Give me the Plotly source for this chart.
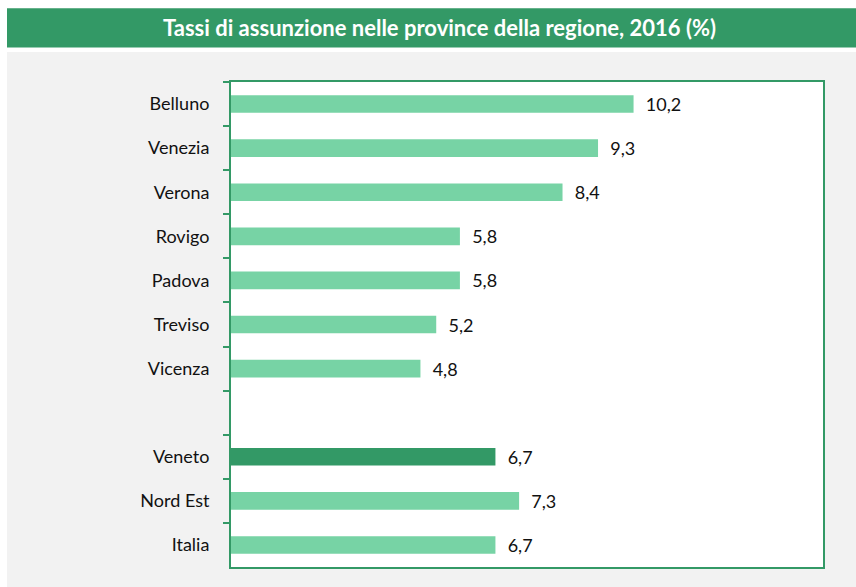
import plotly.graph_objects as go

title = "Tassi di assunzione nelle province della regione, 2016 (%)"
categories = ["Belluno", "Venezia", "Verona", "Rovigo", "Padova", "Treviso", "Vicenza", " ", "Veneto", "Nord Est", "Italia"]
values = [10.2, 9.3, 8.4, 5.8, 5.8, 5.2, 4.8, None, 6.7, 7.3, 6.7]
highlight = "Veneto"

LIGHT = "#77d3a5"
DARK = "#339966"
colors = [DARK if c == highlight else LIGHT for c in categories]

W, H = 856, 587
L, R, T, B = 231, 33, 82, 20
PW, PH = W - L - R, H - T - B

def px_x(x):
    return (x - L) / PW

def px_y(y):
    return (H - B - y) / PH

fig = go.Figure(go.Bar(
    x=values, y=categories, orientation="h",
    marker=dict(color=colors, line=dict(width=0)),
    width=0.4,
    texttemplate="&nbsp;&nbsp;%{x:.1f}", textposition="outside",
    constraintext="none",
    textfont=dict(family="Lato", size=18, color="#111111"),
    cliponaxis=False,
    hoverinfo="skip",
))

fig.update_layout(
    width=W, height=H,
    separators=",.",
    paper_bgcolor="white", plot_bgcolor="white",
    margin=dict(l=L, r=R, t=T, b=B),
    showlegend=False,
    font=dict(family="Lato", size=18, color="#111111"),
    shapes=[
        dict(type="rect", xref="paper", yref="paper", layer="below",
             x0=px_x(7), x1=px_x(W), y0=px_y(H), y1=px_y(52),
             fillcolor="#f2f2f2", line=dict(width=0)),
        dict(type="rect", xref="paper", yref="paper", layer="below",
             x0=0, x1=1, y0=0, y1=1,
             fillcolor="white", line=dict(width=0)),
        dict(type="rect", xref="paper", yref="paper", layer="below",
             x0=px_x(7), x1=px_x(W), y0=px_y(47.5), y1=px_y(8.3),
             fillcolor=DARK, line=dict(width=0)),
    ],
    annotations=[
        dict(text="<b>" + title + "</b>", xref="paper", yref="paper",
             x=px_x(439), y=px_y(28), xanchor="center", yanchor="middle",
             showarrow=False, font=dict(family="Lato", size=22, color="white")),
    ],
)

fig.update_xaxes(range=[0, 15], showgrid=False, zeroline=False, showticklabels=False,
                 showline=True, mirror=True, linecolor=DARK, linewidth=2, ticks="",
                 fixedrange=True)
fig.update_yaxes(autorange="reversed", showgrid=False, showline=True, mirror=True,
                 linecolor=DARK, linewidth=2, ticks="outside", ticklen=6, tickwidth=2,
                 tickcolor=DARK, tickson="boundaries", ticklabelstandoff=16,
                 tickfont=dict(family="Lato", size=18, color="#111111"),
                 fixedrange=True)

fig.write_html("out.html", config={"displayModeBar": False},
               post_script="document.body.style.margin='0';")
